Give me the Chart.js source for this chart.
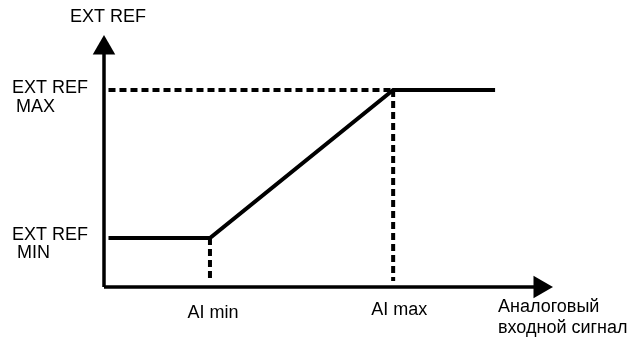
<!DOCTYPE html>
<html>
<head>
<meta charset="utf-8">
<script src="https://cdn.jsdelivr.net/npm/chart.js@4"></script>
<style>
  html, body { margin: 0; padding: 0; background: #fff; }
  canvas { display: block; }
</style>
</head>
<body>
<canvas id="refChart" width="635" height="339"></canvas>
<script>
// analog input (x) vs external reference (y), 0..100 scale
const signalX = [1, 23.6, 64.4, 87.1];
const refY = [19.4, 19.4, 78.2, 78.2];
const aiMin = 23.6;
const aiMax = 64.4;
const refMin = 19.4;
const refMax = 78.2;
const guideBottom = 2.4;

// axes (with arrow heads at the ends)
const axisEndX = 97.1;
const axisEndY = 94.8;

const FONT = '18px "Liberation Sans", Arial, sans-serif';

function pts(xs, ys) {
  return xs.map((x, i) => ({ x: x, y: ys[i] }));
}

// text labels drawn on the canvas
const labelPlugin = {
  id: 'labels',
  afterDraw(chart) {
    const ctx = chart.ctx;
    const xs = chart.scales.x, ys = chart.scales.y;
    const area = chart.chartArea;
    ctx.save();
    ctx.fillStyle = '#000';
    ctx.font = FONT;
    ctx.textBaseline = 'middle';

    ctx.textAlign = 'center';
    ctx.fillText('EXT REF', xs.getPixelForValue(0) + 4, 17);
    ctx.fillText('AI min', xs.getPixelForValue(aiMin) + 3, area.bottom + 26);
    ctx.fillText('AI max', xs.getPixelForValue(aiMax) + 6, area.bottom + 23);

    ctx.textAlign = 'left';
    let yMax = ys.getPixelForValue(refMax);
    ctx.fillText('EXT REF', 12, yMax - 2);
    ctx.fillText('MAX', 16, yMax + 17);
    let yMin = ys.getPixelForValue(refMin);
    ctx.fillText('EXT REF', 12, yMin - 3);
    ctx.fillText('MIN', 17, yMin + 15);

    ctx.fillText('Аналоговый', 498, area.bottom + 20);
    ctx.fillText('входной сигнал', 498, area.bottom + 41);
    ctx.restore();
  }
};

const dash = [7, 4];

new Chart(document.getElementById('refChart'), {
  type: 'scatter',
  data: {
    datasets: [
      // y axis
      { data: pts([0, 0], [0, axisEndY]), showLine: true, borderColor: '#000', borderWidth: 3.5, pointRadius: 0, clip: false },
      // x axis
      { data: pts([0, axisEndX], [0, 0]), showLine: true, borderColor: '#000', borderWidth: 3.5, pointRadius: 0, clip: false },
      // arrow heads
      { data: pts([0], [axisEndY]), pointStyle: 'triangle', rotation: 0, pointRadius: 13, backgroundColor: '#000', borderColor: '#000', borderWidth: 0, clip: false },
      { data: pts([axisEndX], [0]), pointStyle: 'triangle', rotation: 90, pointRadius: 13, backgroundColor: '#000', borderColor: '#000', borderWidth: 0, clip: false },
      // guide lines
      { data: pts([signalX[0], aiMax], [refMax, refMax]), showLine: true, borderColor: '#000', borderWidth: 4, borderDash: dash, pointRadius: 0, clip: false },
      { data: pts([aiMin, aiMin], [refMin, guideBottom]), showLine: true, borderColor: '#000', borderWidth: 4, borderDash: dash, pointRadius: 0, clip: false },
      { data: pts([aiMax, aiMax], [refMax, guideBottom]), showLine: true, borderColor: '#000', borderWidth: 4, borderDash: dash, pointRadius: 0, clip: false },
      // reference curve
      { data: pts(signalX, refY), showLine: true, borderColor: '#000', borderWidth: 4, pointRadius: 0, clip: false }
    ]
  },
  options: {
    responsive: false,
    animation: false,
    devicePixelRatio: 1,
    layout: { padding: { left: 104, right: 82, top: 35, bottom: 52 } },
    scales: {
      x: { type: 'linear', min: 0, max: 100, display: false },
      y: { type: 'linear', min: 0, max: 100, display: false }
    },
    plugins: {
      legend: { display: false },
      tooltip: { enabled: false }
    }
  },
  plugins: [labelPlugin]
});
</script>
</body>
</html>
